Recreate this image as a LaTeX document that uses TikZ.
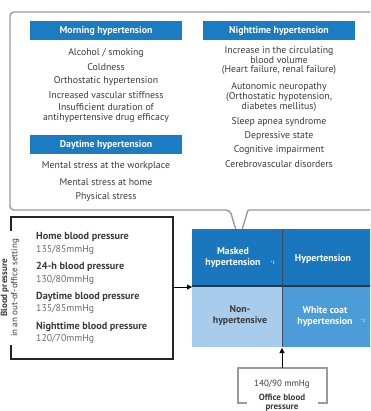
\documentclass[tikz,border=0pt]{standalone}
\usepackage{fontspec}
\setmainfont{PT Sans}
\usetikzlibrary{arrows.meta}
\definecolor{hdrblue}{HTML}{1B7CC2}
\definecolor{darkcell}{HTML}{1A77BD}
\definecolor{lightcell}{HTML}{A8CCEB}
\definecolor{midcell}{HTML}{4C9CD7}
\definecolor{txt}{HTML}{3A3A3A}
\definecolor{valgray}{HTML}{6A6A6A}
\definecolor{boxgray}{HTML}{9A9A9A}
\definecolor{navy}{HTML}{1F3550}
\tikzset{
  x=1pt, y=-1pt,
  hdr/.style={fill=hdrblue, text=white, font=\fontsize{9.8}{10}\selectfont\bfseries, minimum width=152pt, minimum height=19pt, inner sep=0pt},
  item/.style={text=txt, font=\fontsize{9.8}{9.6}\selectfont, align=center, inner sep=0pt},
  bpname/.style={text=txt, font=\fontsize{10.2}{10}\selectfont\bfseries, anchor=west, inner sep=0pt},
  bpval/.style={text=valgray, font=\fontsize{9.8}{10}\selectfont, anchor=west, inner sep=0pt},
  celltxt/.style={text=white, font=\fontsize{9.8}{11}\selectfont\bfseries, align=center, inner sep=0pt},
  note/.style={text=white, font=\fontsize{4.5}{5}\selectfont, inner sep=0pt},
}
\begin{document}
\begin{tikzpicture}
\useasboundingbox (0,0) rectangle (370,411);
\clip (0,0) rectangle (370,411);
% outer callout box
\draw[boxgray, line width=1.4pt, rounded corners=4pt] (380,12) -- (10,12) -- (10,210) -- (230,210) [rounded corners=1pt] -- (239,240) -- (248,210) -- (380,210);
% headers
\node[hdr] (mh) at (106,31) {Morning hypertension};
\node[hdr] (dh) at (106,145) {Daytime hypertension};
\node[hdr] (nh) at (279,31) {Nighttime hypertension};
% morning items
\node[item] (m1) at (106,53) {Alcohol / smoking};
\node[item] (m2) at (106,67) {Coldness};
\node[item] (m3) at (106,81) {Orthostatic hypertension};
\node[item] (m4) at (106,95) {Increased vascular stiffness};
\node[item] (m5) at (106,113) {Insufficient duration of\\antihypertensive drug efficacy};
% daytime items
\node[item] (d1) at (106,166) {Mental stress at the workplace};
\node[item] (d2) at (106,182) {Mental stress at home};
\node[item] (d3) at (106,197) {Physical stress};
% nighttime items
\node[item] (n1) at (279,61) {Increase in the circulating\\blood volume\\(Heart failure, renal failure)};
\node[item] (n2) at (279,97) {Autonomic neuropathy\\(Orthostatic hypotension,\\diabetes mellitus)};
\node[item] (n3) at (279,122) {Sleep apnea syndrome};
\node[item] (n4) at (279,136) {Depressive state};
\node[item] (n5) at (279,150) {Cognitive impairment};
\node[item] (n6) at (279,164) {Cerebrovascular disorders};
% out-of-office box
\coordinate (bl1) at (11,231);
\coordinate (bl2) at (11,345);
\draw[black!85, line width=1.4pt] (bl1) -- (11,217) -- (173,217) -- (173,359) -- (11,359) -- (bl2);
\node[rotate=90, align=center, text=txt, font=\fontsize{9}{10.4}\selectfont, inner sep=0pt] (oo) at (10,288) {\textbf{Blood pressure}\\in an out-of-office setting};
\node[bpname] (b1) at (36,237) {Home blood pressure};
\node[bpval] (v1) at (36,250) {135/85mmHg};
\node[bpname] (b2) at (36,267) {24-h blood pressure};
\node[bpval] (v2) at (36,280) {130/80mmHg};
\node[bpname] (b3) at (36,297) {Daytime blood pressure};
\node[bpval] (v3) at (36,309) {135/85mmHg};
\node[bpname] (b4) at (36,327) {Nighttime blood pressure};
\node[bpval] (v4) at (36,339) {120/70mmHg};
% grid cells
\fill[darkcell] (192,229) rectangle (282,286);
\fill[darkcell] (282,229) rectangle (380,286);
\fill[lightcell] (192,286) rectangle (282,347);
\fill[midcell] (282,286) rectangle (380,347);
\draw[navy, line width=1.6pt] (192,286) -- (380,286);
\draw[navy!70!gray, line width=0.8pt] (282,229) -- (282,347);
\node[celltxt] (c1) at (233,258) {Masked\\hypertension};
\node[note] (c1n) at (273,263) {*1};
\node[celltxt] (c2) at (323,259) {Hypertension};
\node[celltxt, text=txt] (c3) at (240,316) {Non-\\hypertensive};
\node[celltxt] (c4) at (325,317) {White coat\\hypertension};
\node[note] (c4n) at (363,321) {*2};
\coordinate (gridL) at (192,287);
\coordinate (boxR) at (173,287);
\draw[black, line width=0.9pt, -{Triangle[length=5pt,width=5pt]}] (boxR) -- (gridL);
% office box
\draw[boxgray, line width=1.4pt] (247,403) -- (238,403) -- (238,368) -- (327,368) -- (327,403) -- (318,403);
\coordinate (gridB) at (282,348);
\coordinate (offT) at (282,368);
\draw[black, line width=0.9pt, -{Triangle[length=5pt,width=5pt]}] (offT) -- (gridB);
\node[item, font=\fontsize{9}{9}\selectfont] (o1) at (282,384) {140/90 mmHg};
\node[item, font=\fontsize{9}{8.8}\selectfont\bfseries] (o2) at (282,403) {Office blood\\pressure};
\end{tikzpicture}
\end{document}
